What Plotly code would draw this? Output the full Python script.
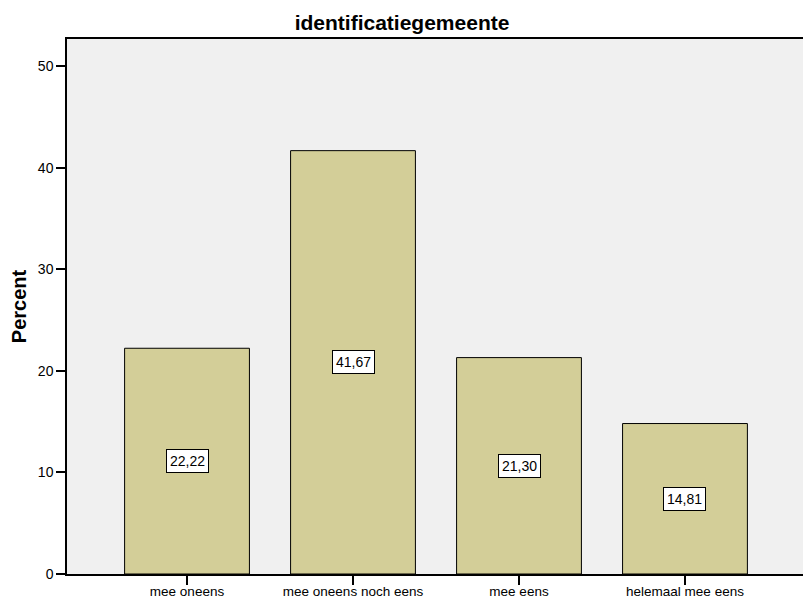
import plotly.graph_objects as go

categories = ["mee oneens", "mee oneens noch eens", "mee eens", "helemaal mee eens"]
percent = [22.22, 41.67, 21.30, 14.81]
y_ticks = [0, 10, 20, 30, 40, 50]

fig = go.Figure()
fig.add_trace(go.Bar(
    x=categories,
    y=percent,
    width=0.752,
    marker=dict(color="#D3CE98", line=dict(color="#000000", width=1)),
    hoverinfo="skip",
))

for c, v in zip(categories, percent):
    fig.add_annotation(
        x=c, y=v / 2, text=f"{v:.2f}".replace(".", ","),
        showarrow=False, bgcolor="#FFFFFF", bordercolor="#000000",
        borderwidth=1, borderpad=3,
        font=dict(family="Liberation Sans, Arial", size=14, color="#000000"),
    )

# page body has an 8px margin, so the figure is sized to fill the rest
fig.update_layout(
    width=803, height=591,
    margin=dict(l=59, r=6, t=31, b=25, autoexpand=False),
    paper_bgcolor="#FFFFFF",
    plot_bgcolor="#F0F0F0",
    showlegend=False,
    title=dict(text="<b>identificatiegemeente</b>", x=0.4907, xanchor="center",
               xref="container", yref="container", y=0.976, yanchor="middle",
               font=dict(family="Liberation Sans, Arial", size=21, color="#000000")),
    font=dict(family="Liberation Sans, Arial", size=13, color="#000000"),
)
fig.update_xaxes(
    range=[-0.723, 3.723], showline=True, linecolor="#000000", linewidth=1.5,
    mirror=True, ticks="outside", ticklen=9, tickwidth=2, tickcolor="#000000",
    showgrid=False, zeroline=False, tickfont=dict(size=13.5), automargin=False,
    ticklabelstandoff=-5,
)
fig.update_yaxes(
    range=[0, 52.66], tickvals=y_ticks, showline=True, linecolor="#000000",
    linewidth=1.5, mirror=True, ticks="outside", ticklen=9, tickwidth=2,
    tickcolor="#000000", showgrid=False, zeroline=False, tickfont=dict(size=14),
    automargin=False,
    title=dict(text="<b>Percent</b>", font=dict(size=20), standoff=20),
)

fig.write_html("out.html")
